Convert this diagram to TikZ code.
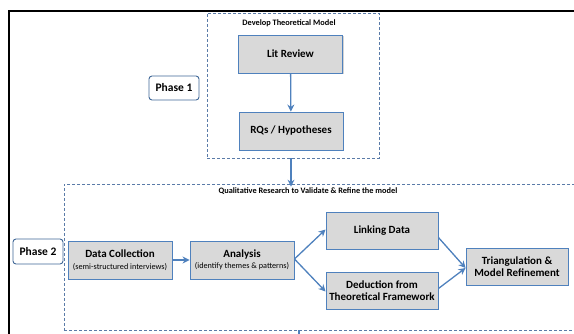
\documentclass[tikz,border=0pt]{standalone}
\usepackage{fontspec}
\setmainfont{Carlito}
\usetikzlibrary{arrows.meta,shadows}
\definecolor{bluebd}{HTML}{4F81BD}
\definecolor{boxfill}{HTML}{D9D9D9}
\definecolor{dashc}{HTML}{5A7BA8}
\newcommand\mysubfont{\mdseries\fontsize{8.2}{9}\selectfont}
\tikzset{
  procbox/.style={draw=bluebd, line width=0.9pt, fill=boxfill, align=center,
    font=\bfseries\fontsize{11}{12.5}\selectfont, inner sep=1pt,
    drop shadow={shadow xshift=0.8pt, shadow yshift=-0.8pt, opacity=0.35}},
  phasebox/.style={draw=bluebd!80!black, line width=0.9pt, fill=white, rounded corners=3pt,
    font=\bfseries\fontsize{11.5}{13}\selectfont, inner sep=1pt},
  groupbox/.style={draw=dashc, densely dashed, line width=0.7pt, inner sep=0pt},
  grouptitle/.style={font=\bfseries\fontsize{8.3}{9}\selectfont, inner sep=0pt},
  flow/.style={draw=bluebd, line width=1.3pt, -{Stealth[length=7pt,width=7pt]}}
}
\begin{document}
\begin{tikzpicture}[x=1pt,y=-1pt]
\useasboundingbox (0,0) rectangle (574,333);
% outer frame
\draw[black, line width=1.8pt] (9,11) rectangle (590,345);
% group boxes
\node[groupbox, minimum width=172pt, minimum height=145pt] (top) at (293,85.5) {};
\node[grouptitle] (toptitle) at (289,23) {Develop Theoretical Model};
\node[groupbox, minimum width=540pt, minimum height=146pt] (qual) at (334,257) {};
\node[grouptitle] (qualtitle) at (308,191.5) {Qualitative Research to Validate \& Refine the model};
% phase labels
\node[phasebox, minimum width=50pt, minimum height=24pt] (ph1) at (174,88) {Phase 1};
\node[phasebox, minimum width=50pt, minimum height=25pt] (ph2) at (38,251.5) {Phase 2};
% process boxes
\node[procbox, minimum width=104.5pt, minimum height=38pt] (lit) at (290.5,54) {Lit Review};
\node[procbox, minimum width=104pt, minimum height=38pt] (rq) at (291,131) {RQs / Hypotheses};
\node[procbox, minimum width=104pt, minimum height=38pt] (dc) at (120,260) {Data Collection\\[-1pt]{\mysubfont (semi-structured interviews)}};
\node[procbox, minimum width=104pt, minimum height=38pt] (an) at (242,260) {Analysis\\[-1pt]{\mysubfont (identify themes \& patterns)}};
\node[procbox, minimum width=112pt, minimum height=37pt] (ld) at (382,230.5) {Linking Data};
\node[procbox, minimum width=112pt, minimum height=37pt] (de) at (382,290.5) {Deduction from\\Theoretical Framework};
\node[procbox, minimum width=102pt, minimum height=37pt] (tr) at (517,266.5) {Triangulation \&\\Model Refinement};
% connectors
\draw[flow] (lit) -- (rq);
\draw[flow] (top.south -| rq.south) -- ([yshift=-3pt]qual.north -| rq.south);
\draw[flow] (dc) -- (an);
\coordinate (anr) at ([yshift=1pt]an.east);
\draw[flow] (anr) -- ([yshift=1pt]ld.west);
\draw[flow] (anr) -- ([yshift=-1pt]de.west);
\coordinate (trl) at ([yshift=-1.5pt]tr.west);
\draw[flow] ([yshift=-7pt]ld.east) -- (trl);
\draw[flow] ([yshift=2pt]de.east) -- (trl);
\coordinate (stub) at (299,345);
\draw[draw=bluebd, line width=1.3pt] (qual.south -| stub) -- (stub);
\end{tikzpicture}
\end{document}
